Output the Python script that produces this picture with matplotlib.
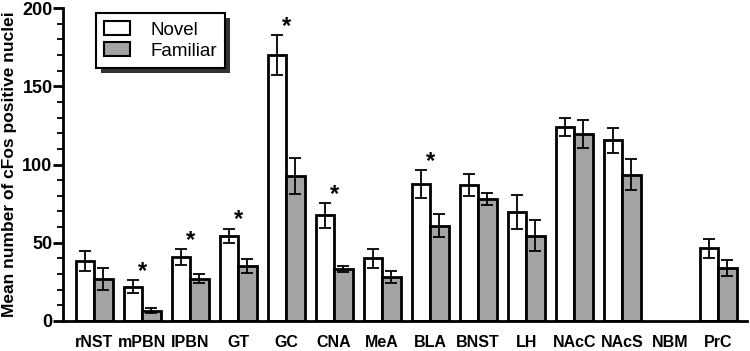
import numpy as np
import matplotlib.pyplot as plt
from matplotlib.patches import Rectangle
from matplotlib.transforms import IdentityTransform

plt.rcParams['font.family'] = ['Liberation Sans', 'DejaVu Sans']

regions = ['rNST', 'mPBN', 'lPBN', 'GT', 'GC', 'CNA', 'MeA', 'BLA',
           'BNST', 'LH', 'NAcC', 'NAcS', 'NBM', 'PrC']
novel = [38.5, 22, 41, 54.5, 170, 67.5, 40, 87.5, 87, 69.5, 124, 115.5, np.nan, 46.5]
novel_err = [6.5, 4, 5, 4.5, 12.5, 8, 6, 9, 7, 11, 6, 8, np.nan, 6]
familiar = [27, 6.5, 27, 35, 92.5, 33, 28, 61, 78, 54.5, 119.5, 93.5, np.nan, 34]
familiar_err = [7, 1.5, 3, 4.5, 11.5, 2, 4, 7.5, 4, 10, 9, 10, np.nan, 5]
significant = [False, True, True, True, True, True, False, True,
               False, False, False, False, False, False]

fig = plt.figure(figsize=(7.5, 3.51), dpi=100)
ax = fig.add_axes([0.084, 0.0855, 0.912, 0.8915])

x = np.arange(len(regions))
w = 0.385
bar_kw = dict(edgecolor='black', linewidth=2, zorder=2)
err_kw = dict(elinewidth=1.3, capthick=1.3, ecolor='black')
ax.bar(x - w / 2, novel, w, color='white', label='Novel',
       yerr=novel_err, capsize=4, error_kw=err_kw, **bar_kw)
ax.bar(x + w / 2, familiar, w, color='#a3a3a3', label='Familiar',
       yerr=familiar_err, capsize=4, error_kw=err_kw, **bar_kw)

# significance stars over the group
for i, sig in enumerate(significant):
    if sig:
        top = novel[i] + novel_err[i]
        ax.text(x[i], top + 1.5, '*', ha='center', va='baseline',
                fontsize=17, fontweight='bold')

ax.set_xlim(-0.646, 13.6)
ax.set_ylim(0, 200)
ax.set_xticks(x)
ax.set_xticklabels(regions, fontsize=11.5, fontweight='bold')
ax.tick_params(axis='x', length=0, pad=10)
ax.set_yticks([0, 50, 100, 150, 200])
ax.set_yticks(np.arange(0, 201, 10), minor=True)
ax.tick_params(axis='y', which='major', length=7, width=2, labelsize=13, pad=0.5)
ax.tick_params(axis='y', which='minor', length=4, width=1.3)
for lab in ax.get_yticklabels():
    lab.set_fontweight('bold')
ax.set_ylabel('Mean number of cFos positive nuclei', fontsize=12.5,
              fontweight='bold', labelpad=4)

for s in ['top', 'right']:
    ax.spines[s].set_visible(False)
ax.spines['left'].set_linewidth(2)
ax.spines['bottom'].set_linewidth(2)

leg = ax.legend(loc='upper left', bbox_to_anchor=(0.048, 0.985), fontsize=13.5,
                frameon=True, fancybox=False, edgecolor='black', framealpha=1,
                borderpad=0.45, handlelength=1.35, handleheight=0.75,
                handletextpad=1.1, labelspacing=0.2, borderaxespad=0)
leg.get_frame().set_linewidth(1.5)
leg.set_zorder(6)
for h in leg.legend_handles:
    h.set_linewidth(1.5)

# dark drop shadow behind the legend box
fig.canvas.draw()
bb = leg.get_window_extent()
ax.add_artist(Rectangle((bb.x0 + 5, bb.y0 - 5), bb.width, bb.height,
                        transform=IdentityTransform(), facecolor='0.2',
                        edgecolor='none', zorder=5, clip_on=False))

fig.savefig('out.png', dpi=100)
